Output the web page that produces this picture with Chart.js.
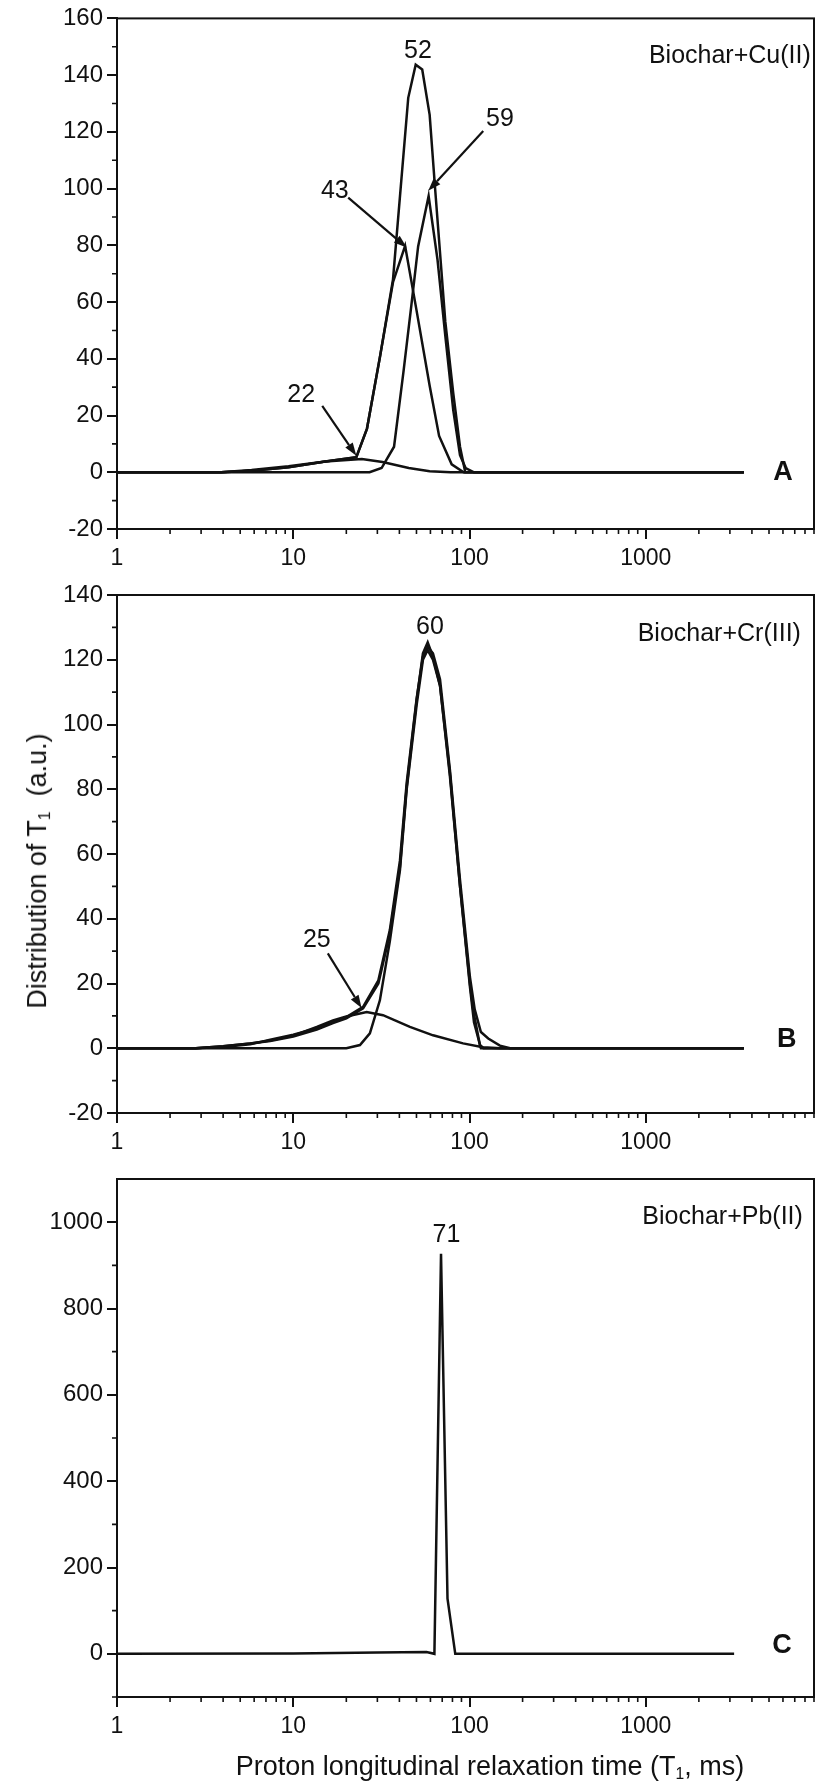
<!DOCTYPE html>
<html><head><meta charset="utf-8">
<script src="https://cdn.jsdelivr.net/npm/chart.js@4.4.1/dist/chart.umd.min.js"></script>
<style>
html,body{margin:0;padding:0;background:#fff;}
#wrap{position:relative;width:821px;height:1784px;overflow:hidden;font-family:"Liberation Sans",Arial,sans-serif;color:#111;}
canvas{position:absolute;left:0;}
.ytitle{position:absolute;left:38px;top:871px;transform:translate(-50%,-50%) rotate(-90deg);white-space:nowrap;font-size:27px;}
.xtitle{position:absolute;left:490px;top:1767px;transform:translate(-50%,-50%);white-space:nowrap;font-size:27px;}
sub{font-size:58%;vertical-align:-0.25em;}
</style></head>
<body><div id="wrap">
<canvas id="cA" width="821" height="590" style="top:0px;width:821px;height:590px"></canvas>
<canvas id="cB" width="821" height="600" style="top:570px;width:821px;height:600px"></canvas>
<canvas id="cC" width="821" height="629" style="top:1155px;width:821px;height:629px"></canvas>
<div class="ytitle">Distribution of T<sub>1</sub>&nbsp; (a.u.)</div>
<div class="xtitle">Proton longitudinal relaxation time (T<sub>1</sub>, ms)</div>
</div>
<script>
// ---------- axis ticks ----------
const xMajorTicks = [1, 10, 100, 1000];
const xMinorTicks = [2,3,4,5,6,7,8,9,20,30,40,50,60,70,80,90,200,300,400,500,600,700,800,900,2000,3000,4000,5000,6000,7000,8000,9000];
const yMajorA = [-20, 0, 20, 40, 60, 80, 100, 120, 140, 160];
const yMinorA = [-10, 10, 30, 50, 70, 90, 110, 130, 150];
const yMajorB = [-20, 0, 20, 40, 60, 80, 100, 120, 140];
const yMinorB = [-10, 10, 30, 50, 70, 90, 110, 130];
const yMajorC = [0, 200, 400, 600, 800, 1000];
const yMinorC = [-100, 100, 300, 500, 700, 900];

// ---------- Panel A: Biochar+Cu(II) ----------
const cuT_52 = [1, 3.9, 5.8, 9.4, 15.2, 22.8, 26.2, 31, 36.8, 44.9, 49.5, 53.9, 59.4, 63.6, 72.9, 80.8, 88.3, 94.6, 3600];
const cuY_52 = [0, 0, 0.5, 1.8, 3.8, 5.3, 15.4, 40.5, 68, 132, 143.7, 142, 126, 101, 53, 28, 9, 0, 0];
const cuT_43 = [1, 3.9, 5.8, 9.4, 15.2, 22.8, 26.2, 31, 36.8, 43.1, 50.1, 59.4, 67.2, 79.2, 92.6, 3600];
const cuY_43 = [0, 0, 0.5, 1.8, 3.8, 5.3, 15.4, 40.5, 67, 79.8, 56.9, 30.5, 12.8, 2.8, 0, 0];
const cuT_59 = [1, 27.1, 31.7, 37.3, 42.2, 46.8, 51.1, 58.6, 65.8, 72.9, 80.8, 88.3, 95, 106, 3600];
const cuY_59 = [0, 0, 1.5, 9, 35.5, 59, 79.6, 97.4, 75, 48, 22, 6, 1.5, 0, 0];
const cuT_22 = [1, 3.9, 5.8, 9.4, 15.2, 24.5, 32.1, 45.2, 59.4, 78.1, 3600];
const cuY_22 = [0, 0, 0.8, 2.1, 3.8, 4.7, 3.6, 1.5, 0.4, 0, 0];

// ---------- Panel B: Biochar+Cr(III) ----------
const crT_1 = [1, 2.8, 4, 5.7, 7.4, 10, 13.6, 16.8, 20, 24.9, 30.4, 35.3, 40.3, 44, 50.1, 54.4, 57.9, 62, 68, 77.4, 88.3, 100.5, 105, 114.5, 120, 3600];
const crY_1 = [0, 0, 0.6, 1.5, 2.2, 3.6, 5.8, 7.8, 9.2, 12.3, 20, 35.4, 56, 80.7, 107.5, 122, 125.4, 121, 112, 84, 50, 20, 11.7, 1, 0, 0];
const crT_2 = [1, 2.8, 4, 5.7, 7.4, 10, 13.6, 16.8, 20, 24.9, 30.4, 35.3, 40.3, 44, 50.1, 54.4, 57.9, 62, 68, 77.4, 88.3, 100.5, 107, 116, 127.7, 148.7, 170, 3600];
const crY_2 = [0, 0, 0.4, 1.2, 2.6, 4.2, 6.2, 8.2, 9.6, 12.8, 21, 36.5, 58, 82, 108, 121, 124, 122, 114, 86, 52, 22, 12, 5, 3, 0.8, 0, 0];
const crT_3 = [1, 20, 23.9, 27.2, 31, 35.3, 40.3, 44, 50.1, 54.4, 57.9, 62, 68, 77.4, 88.3, 100.5, 106, 116, 3600];
const crY_3 = [0, 0, 1, 4.6, 14.8, 33, 55, 80, 106, 120, 123, 120, 112, 85, 50, 19, 8, 0, 0];
const crT_25 = [1, 2.8, 4, 5.7, 7.4, 10, 13.6, 16.8, 20, 26.1, 32.3, 45.9, 62.1, 91.9, 119, 150, 3600];
const crY_25 = [0, 0, 0.6, 1.5, 2.4, 3.9, 6.6, 8.6, 9.8, 11.2, 10.2, 6.6, 4, 1.5, 0.3, 0, 0];

// ---------- Panel C: Biochar+Pb(II) ----------
const pbT = [1, 10, 30, 57, 63.2, 68.9, 75, 83, 100, 3170];
const pbY = [0, 1, 3, 4, 0, 927, 128, 0, 0, 0];

const FONT = '"Liberation Sans", Arial, sans-serif';

function pts(xs, ys) { return xs.map((x, i) => ({ x: x, y: ys[i] })); }

const decor = {
  id: 'decor',
  afterDraw(chart, args, o) {
    const { ctx, chartArea: a, scales: { x, y } } = chart;
    ctx.save();
    ctx.strokeStyle = '#111';
    ctx.lineWidth = 2;
    ctx.strokeRect(a.left, a.top, a.right - a.left, a.bottom - a.top);
    ctx.lineWidth = 1.6;
    ctx.beginPath();
    (o.xMinor || []).forEach(v => { const p = x.getPixelForValue(v); ctx.moveTo(p, a.bottom); ctx.lineTo(p, a.bottom + 5); });
    (o.yMinor || []).forEach(v => { const p = y.getPixelForValue(v); ctx.moveTo(a.left - 5, p); ctx.lineTo(a.left, p); });
    ctx.stroke();
    ctx.fillStyle = '#111';
    (o.texts || []).forEach(t => {
      ctx.font = (t.bold ? 'bold ' : '') + t.size + 'px ' + FONT;
      ctx.textAlign = t.align || 'center';
      ctx.textBaseline = 'middle';
      ctx.fillText(t.text, x.getPixelForValue(t.x), y.getPixelForValue(t.y));
    });
    (o.arrows || []).forEach(ar => {
      const x1 = x.getPixelForValue(ar.x1), y1 = y.getPixelForValue(ar.y1);
      const x2 = x.getPixelForValue(ar.x2), y2 = y.getPixelForValue(ar.y2);
      const ang = Math.atan2(y2 - y1, x2 - x1);
      const L = 13, W = 4.5;
      const bx = x2 - L * Math.cos(ang), by = y2 - L * Math.sin(ang);
      ctx.lineWidth = 2.2;
      ctx.beginPath(); ctx.moveTo(x1, y1); ctx.lineTo(bx, by); ctx.stroke();
      ctx.beginPath();
      ctx.moveTo(x2, y2);
      ctx.lineTo(bx + W * Math.sin(ang), by - W * Math.cos(ang));
      ctx.lineTo(bx - W * Math.sin(ang), by + W * Math.cos(ang));
      ctx.closePath(); ctx.fill();
    });
    ctx.restore();
  }
};

function makeChart(id, p) {
  const xVals = xMajorTicks.concat(xMinorTicks).sort((a, b) => a - b);
  const yVals = p.yMajor.concat(p.yMinor).sort((a, b) => a - b);
  return new Chart(document.getElementById(id), {
    type: 'line',
    data: {
      datasets: p.series.map(s => ({ data: s, borderColor: '#111', borderWidth: 2.5, pointRadius: 0, tension: 0, fill: false }))
    },
    options: {
      responsive: false, animation: false, devicePixelRatio: 1,
      layout: { padding: { top: p.padTop, right: 7, left: 0, bottom: 0 } },
      plugins: {
        legend: { display: false }, tooltip: { enabled: false },
        decor: { xMinor: xMinorTicks, yMinor: p.yMinor, texts: p.texts, arrows: p.arrows }
      },
      scales: {
        x: {
          type: 'logarithmic', min: 1, max: 9000,
          afterBuildTicks: s => { s.ticks = xVals.map(v => ({ value: v })); },
          afterFit: s => { s.height = p.xHeight; },
          ticks: {
            autoSkip: false, maxRotation: 0, minRotation: 0, padding: 6, color: '#111',
            font: { size: 23, family: FONT },
            callback: v => (xMajorTicks.indexOf(v) >= 0 ? String(v) : '')
          },
          grid: {
            drawOnChartArea: false, tickLength: 10, lineWidth: 2,
            color: c => (c.tick && xMajorTicks.indexOf(c.tick.value) >= 0 ? '#111' : 'rgba(0,0,0,0)')
          },
          border: { display: true, color: '#111', width: 2 }
        },
        y: {
          type: 'linear', min: p.yMin, max: p.yMax,
          afterBuildTicks: s => { s.ticks = yVals.map(v => ({ value: v })); },
          afterFit: s => { s.width = 117; },
          ticks: {
            autoSkip: false, padding: 4, color: '#111',
            font: { size: 24, family: FONT },
            callback: v => (p.yMajor.indexOf(v) >= 0 ? String(v) : '')
          },
          grid: {
            drawOnChartArea: false, tickLength: 10, lineWidth: 2,
            color: c => (c.tick && p.yMajor.indexOf(c.tick.value) >= 0 ? '#111' : 'rgba(0,0,0,0)')
          },
          border: { display: true, color: '#111', width: 2 }
        }
      }
    },
    plugins: [decor]
  });
}

makeChart('cA', {
  padTop: 17, xHeight: 61, yMin: -20, yMax: 160, yMajor: yMajorA, yMinor: yMinorA,
  series: [pts(cuT_52, cuY_52), pts(cuT_43, cuY_43), pts(cuT_59, cuY_59), pts(cuT_22, cuY_22)],
  texts: [
    { text: '52', x: 51, y: 148.4, size: 25 },
    { text: '59', x: 148.7, y: 124.5, size: 25 },
    { text: '43', x: 17.2, y: 99.2, size: 25 },
    { text: '22', x: 11.1, y: 27.2, size: 25 },
    { text: 'Biochar+Cu(II)', x: 8630, y: 146.6, size: 25, align: 'right' },
    { text: 'A', x: 6000, y: 0, size: 27, bold: true }
  ],
  arrows: [
    { x1: 119.6, y1: 120.3, x2: 58.3, y2: 99.2 },
    { x1: 20.5, y1: 96.8, x2: 44, y2: 79.2 },
    { x1: 14.6, y1: 23.4, x2: 22.8, y2: 5.8 }
  ]
});

makeChart('cB', {
  padTop: 25, xHeight: 57, yMin: -20, yMax: 140, yMajor: yMajorB, yMinor: yMinorB,
  series: [pts(crT_1, crY_1), pts(crT_2, crY_2), pts(crT_3, crY_3), pts(crT_25, crY_25)],
  texts: [
    { text: '60', x: 59.6, y: 130, size: 25 },
    { text: '25', x: 13.6, y: 33.4, size: 25 },
    { text: 'Biochar+Cr(III)', x: 7586, y: 127.9, size: 25, align: 'right' },
    { text: 'B', x: 6310, y: 2.8, size: 27, bold: true }
  ],
  arrows: [
    { x1: 15.7, y1: 29.3, x2: 24.4, y2: 12.4 }
  ]
});

makeChart('cC', {
  padTop: 24, xHeight: 87, yMin: -100, yMax: 1100, yMajor: yMajorC, yMinor: yMinorC,
  series: [pts(pbT, pbY)],
  texts: [
    { text: '71', x: 74, y: 971, size: 25 },
    { text: 'Biochar+Pb(II)', x: 7780, y: 1012, size: 25, align: 'right' },
    { text: 'C', x: 5916, y: 18.5, size: 27, bold: true }
  ],
  arrows: []
});
</script>
</body></html>
